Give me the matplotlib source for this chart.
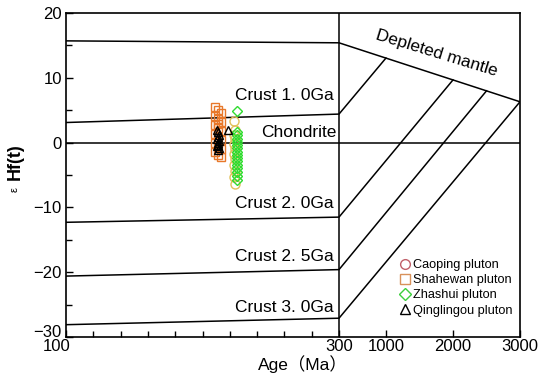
import numpy as np
import matplotlib
matplotlib.use("Agg")
import matplotlib.pyplot as plt
from matplotlib.lines import Line2D
from matplotlib.transforms import ScaledTranslation

plt.rcParams['font.family'] = ['Liberation Sans', 'Noto Sans CJK SC', 'DejaVu Sans']

# ---- data ----
dm_age = [100, 300, 3000]
dm_ehf = [15.7, 15.4, 6.3]

crust_labels = ["Crust 1. 0Ga", "Crust 2. 0Ga", "Crust 2. 5Ga", "Crust 3. 0Ga"]
crust_left_ehf = [3.1, -12.3, -20.6, -28.1]     # at 100 Ma
crust_300_ehf = [4.4, -11.5, -19.6, -27.1]      # at 300 Ma
crust_model_age = [1000, 2000, 2500, 3000]      # meets depleted mantle

shahewan_age = [209, 211.5, 213.5, 209, 211.5, 213.5, 209, 211.5, 213.5, 209, 211.5, 213.5,
                209, 211.5, 213.5, 209, 211.5, 213.5, 211.5]
shahewan_ehf = [5.5, 5.1, 4.6, 4.1, 3.6, 3.2, 2.7, 2.3, 1.8, 1.3, 0.9, 0.4,
                -0.1, -0.6, -1.0, -1.5, -1.9, -2.2, 2.9]

caoping_age = [223, 223.5, 223, 223.5, 223, 223.5, 223, 223.5, 223, 223.5, 223, 223.5]
caoping_ehf = [3.3, 1.9, 1.2, 0.5, -0.2, -1.0, -1.8, -2.6, -3.5, -4.4, -5.3, -6.4]

zhashui_age = [225.5] * 16
zhashui_ehf = [4.8, 1.6, 1.1, 0.6, 0.1, -0.4, -0.9, -1.4, -1.9, -2.4, -2.9, -3.4,
               -3.9, -4.5, -5.1, -5.8]

qing_age = [210.5, 211.5, 212, 211, 210.5, 212, 211, 211.5, 210.5, 212, 211, 218.5]
qing_ehf = [2.0, 1.6, 1.2, 0.9, 0.6, 0.3, 0.0, -0.3, -0.6, -0.9, -1.2, 1.9]

x_ticks = [100, 300, 1000, 2000, 3000]
x_minor = [120, 140, 160, 180, 200, 220, 240, 260, 280]
y_ticks = [-30, -20, -10, 0, 10, 20]
y_minor = [-25, -15, -5, 5, 15]

# ---- broken-linear x scale ----
def fwd(x):
    x = np.asarray(x, dtype=float)
    return np.where(x <= 300, (x - 100) / 200 * 273, 273 + (x - 300) / 2700 * 181)

def inv(u):
    u = np.asarray(u, dtype=float)
    return np.where(u <= 273, 100 + u / 273 * 200, 300 + (u - 273) / 181 * 2700)

fig = plt.figure(figsize=(5.5, 3.74), dpi=100)
ax = fig.add_axes([66/550, 1 - 337/374, (520-66)/550, (337-13)/374])
ax.set_xscale('function', functions=(fwd, inv))
ax.set_xlim(100, 3000)
ax.set_ylim(-30, 20)

lw = 1.1
ax.plot(dm_age, dm_ehf, color='black', lw=lw)
ax.plot([100, 3000], [0, 0], color='black', lw=lw)
ax.axvline(300, color='black', lw=lw)
dm_at = lambda a: np.interp(a, dm_age, dm_ehf)
for l, c3, ma in zip(crust_left_ehf, crust_300_ehf, crust_model_age):
    ax.plot([100, 300, ma], [l, c3, dm_at(ma)], color='black', lw=lw)

# data points
ms = 6
ax.plot(shahewan_age, shahewan_ehf, 's', mfc='none', mec='#e8782a', ms=ms, mew=1.0, ls='none')
ax.plot(caoping_age, caoping_ehf, 'o', mfc='none', mec='#e2c05a', ms=6.5, mew=1.0, ls='none')
ax.plot(zhashui_age, zhashui_ehf, 'D', mfc='none', mec='#2fdc2f', ms=5.5, mew=1.0, ls='none')
ax.plot(qing_age, qing_ehf, '^', mfc='none', mec='black', ms=ms, mew=1.0, ls='none')

# labels on lines
fs = 12.5
ax.text(296, 7.3, crust_labels[0], ha='right', va='center', fontsize=fs)
ax.text(298.5, 1.5, "Chondrite", ha='right', va='center', fontsize=fs)
ax.text(296, -9.4, crust_labels[1], ha='right', va='center', fontsize=fs)
ax.text(296, -17.6, crust_labels[2], ha='right', va='center', fontsize=fs)
ax.text(296, -25.5, crust_labels[3], ha='right', va='center', fontsize=fs)
ax.text(1760, 13.8, "Depleted mantle", ha='center', va='center', fontsize=12.5,
        rotation=-17, rotation_mode='anchor')

# ticks
ax.set_xticks(x_ticks)
ax.set_xticklabels([str(t) for t in x_ticks])
ax.set_xticks(x_minor, minor=True)
ax.set_yticks(y_ticks)
ax.set_yticklabels([str(t).replace('-', '\u2212') for t in y_ticks])
ax.set_yticks(y_minor, minor=True)
ax.tick_params(axis='both', which='both', direction='in', labelsize=12, width=1.0)
ax.tick_params(axis='both', which='major', length=5, pad=3)
ax.tick_params(axis='x', which='major', pad=1.5)
ax.tick_params(axis='both', which='minor', length=4)
for s in ax.spines.values():
    s.set_linewidth(1.2)
ax.get_yticklabels()[0].set_va('baseline')
lab100 = ax.get_xticklabels()[0]
lab100.set_transform(lab100.get_transform() + ScaledTranslation(-9/100, 0, fig.dpi_scale_trans))

ax.set_xlabel("Age（Ma）", fontsize=12.5)
ax.xaxis.set_label_coords((303 - 66) / 454, -0.056)
fig.text(15/550, 1 - 162/374, "Hf(t)", rotation=90, ha='center', va='center', fontsize=13, fontweight='bold')
fig.text(15/550, 1 - 190/374, "ε", rotation=90, ha='center', va='center', fontsize=8)

# legend
handles = [
    Line2D([], [], marker='o', ls='none', mfc='none', mec='#c0606a', ms=7, mew=1.0),
    Line2D([], [], marker='s', ls='none', mfc='none', mec='#d8915a', ms=7, mew=1.0),
    Line2D([], [], marker='D', ls='none', mfc='none', mec='#3ccf3c', ms=6, mew=1.0),
    Line2D([], [], marker='^', ls='none', mfc='none', mec='black', ms=7, mew=1.0),
]
labels = ["Caoping pluton", "Shahewan pluton", "Zhashui pluton", "Qinglingou pluton"]
ax.legend(handles, labels, loc='upper left', bbox_to_anchor=(400/550, 1 - 259/374),
          bbox_transform=fig.transFigure, frameon=False, fontsize=9.2,
          handlelength=0.8, handletextpad=0.2, labelspacing=0.25, borderpad=0, borderaxespad=0)

fig.savefig("out.png", dpi=100)
